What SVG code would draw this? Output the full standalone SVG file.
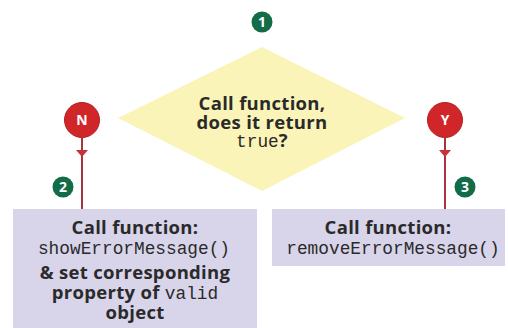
<svg xmlns="http://www.w3.org/2000/svg" width="508" height="328" viewBox="0 0 508 328">
<style>
.t{font-family:"Open Sans","Liberation Sans",sans-serif;font-weight:bold;font-size:18.5px;letter-spacing:0.3px;fill:#2a2a2a;text-anchor:middle}
.m{font-family:"Liberation Mono","DejaVu Sans Mono",monospace;font-weight:normal;font-size:17.8px;letter-spacing:0}
.g{fill:#136c48}
.r{fill:#d0262a;stroke:#b51d22;stroke-width:1}
.n{font-family:"Open Sans","Liberation Sans",sans-serif;font-weight:bold;font-size:14px;fill:#fff;text-anchor:middle}
.ln{stroke:#a8343c;stroke-width:2;fill:none}
.box{fill:#d8d4ea}
</style>
<rect width="508" height="328" fill="#fff"/>
<g id="decision">
<polygon points="262,47 405,118 262,191 118,118" fill="#fbf4b8"/>
<text class="t" x="262" y="110">Call function,</text>
<text class="t" x="262" y="129">does it return</text>
<text class="t" x="262" y="147"><tspan class="m">true</tspan>?</text>
</g>
<g id="step1"><circle class="g" cx="262" cy="22" r="10.5"/><text class="n" x="262" y="27">1</text></g>
<g id="no"><circle class="r" cx="82" cy="120" r="17.5"/><text class="n" x="82" y="125">N</text></g>
<g id="yes"><circle class="r" cx="445" cy="120" r="17.5"/><text class="n" x="445" y="125">Y</text></g>
<g id="connectors">
<line class="ln" x1="82" y1="137" x2="82" y2="209"/>
<path d="M76,150 L88,150 L82,157 Z" fill="#c8303a"/>
<line class="ln" x1="445" y1="137" x2="445" y2="209"/>
<path d="M439,150 L451,150 L445,157 Z" fill="#c8303a"/>
</g>
<g id="step2"><circle class="g" cx="63" cy="187" r="10.5"/><text class="n" x="63" y="192">2</text></g>
<g id="step3"><circle class="g" cx="465" cy="187" r="10.5"/><text class="n" x="465" y="192">3</text></g>
<g id="showBox">
<rect class="box" x="13" y="209" width="244" height="119"/>
<text class="t" x="135" y="234">Call function:</text>
<text class="t m" x="134" y="254">showErrorMessage()</text>
<text class="t" x="135" y="279">&amp; set corresponding</text>
<text class="t" x="135" y="299">property of <tspan class="m">valid</tspan></text>
<text class="t" x="135" y="319">object</text>
</g>
<g id="removeBox">
<rect class="box" x="272" y="209" width="233" height="57"/>
<text class="t" x="388" y="234">Call function:</text>
<text class="t m" x="393" y="254">removeErrorMessage()</text>
</g>
</svg>
